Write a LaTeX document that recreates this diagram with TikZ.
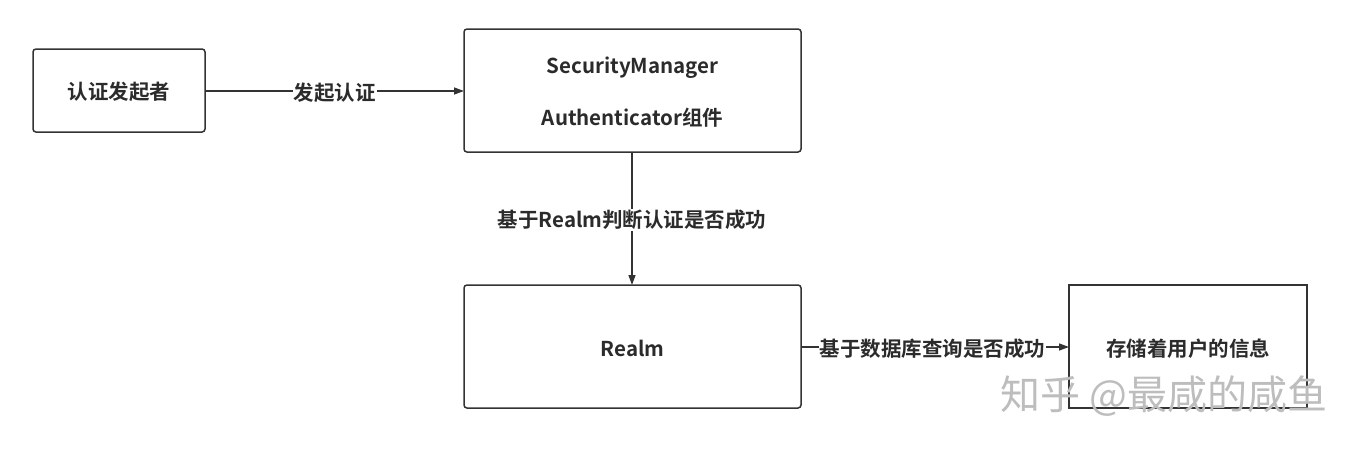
\documentclass[tikz,border=0pt]{standalone}
\usepackage{fontspec}
\setmainfont{Noto Sans CJK SC}
\newfontfamily\cjkbold{Noto Sans CJK SC Bold}
\usetikzlibrary{arrows.meta}
\definecolor{ln}{HTML}{333333}
\definecolor{tx}{HTML}{2B2B2B}
\definecolor{wm}{HTML}{BDBDBD}
\begin{document}
\begin{tikzpicture}[x=1pt,y=-1pt,
  box/.style={draw=ln,line width=1.5pt,rounded corners=3pt,fill=white},
  sqbox/.style={draw=ln,line width=1.5pt,fill=white},
  lbl/.style={font=\cjkbold\fontsize{20.5}{24}\selectfont,text=tx},
  conn/.style={draw=ln,line width=1.4pt,-{Triangle[length=10pt,width=7pt]}},
  elbl/.style={lbl,fill=white,inner sep=1pt,yshift=-1.5pt}]
\useasboundingbox (0,0) rectangle (1363,450);
\path[box] (33,49) rectangle (205,132);
\node[lbl] (a) at (119,92) {认证发起者};
\coordinate (aE) at (205,91);
\path[box] (464,29) rectangle (801,152);
\node[lbl] (b1) at (632.5,68) {SecurityManager};
\node[lbl] (b2) at (632.5,117.5) {Authenticator组件};
\coordinate (bW) at (464,91);
\coordinate (bS) at (632,152);
\path[box] (464,285) rectangle (801,408);
\node[lbl] (c) at (632.5,348.5) {Realm};
\coordinate (cN) at (632,285);
\coordinate (cE) at (801,347);
\path[sqbox] (1069,285) rectangle (1307,408);
\node[lbl] (d) at (1188,348.5) {存储着用户的信息};
\coordinate (dW) at (1069,347);
\draw[conn] (aE) -- node[elbl] (l1) {发起认证} (bW);
\draw[conn] (bS) -- node[elbl,pos=0.5] (l2) {基于Realm判断认证是否成功} (cN);
\draw[conn] (cE) -- node[elbl,pos=0.49] (l3) {基于数据库查询是否成功} (dW);
\node[font=\fontsize{40}{44}\selectfont,text=wm,anchor=west] (wmk) at (997,396) {知乎 @最咸的咸鱼};
\end{tikzpicture}
\end{document}
